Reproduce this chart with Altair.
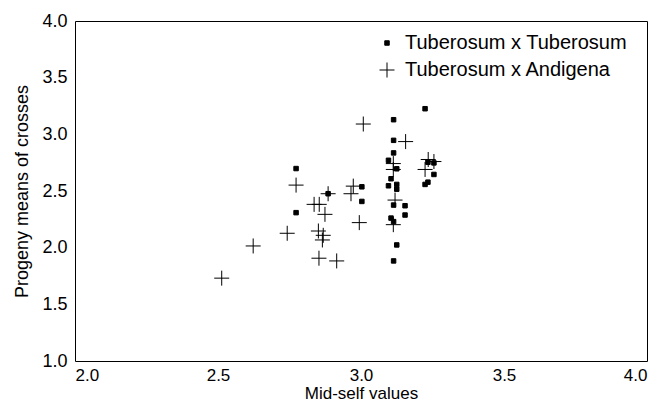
import altair as alt
import pandas as pd

# Tuberosum x Tuberosum (filled squares)
tt_x = [2.773, 2.773, 2.885, 3.003, 3.003, 3.224, 3.114, 3.114, 3.114, 3.096, 3.125,
        3.105, 3.125, 3.096, 3.125, 3.114, 3.154, 3.154, 3.105, 3.114, 3.125, 3.114,
        3.234, 3.255, 3.255, 3.234, 3.224]
tt_y = [2.698, 2.309, 2.476, 2.537, 2.408, 3.226, 3.129, 2.947, 2.836, 2.771, 2.696,
        2.608, 2.558, 2.546, 2.516, 2.376, 2.370, 2.288, 2.261, 2.230, 2.024, 1.883,
        2.754, 2.748, 2.646, 2.578, 2.558]

# Tuberosum x Andigena (crosses)
ta_x = [2.513, 2.623, 2.742, 2.773, 2.836, 2.854, 2.874, 2.851, 2.868, 2.865, 2.853,
        2.915, 2.973, 2.965, 2.994, 2.885, 3.008, 3.156, 3.113, 3.113, 3.235, 3.224,
        3.255, 3.119, 3.113]
ta_y = [1.731, 2.015, 2.127, 2.552, 2.382, 2.382, 2.294, 2.147, 2.109, 2.068, 1.907,
        1.883, 2.543, 2.476, 2.221, 2.476, 3.091, 2.936, 2.742, 2.690, 2.778, 2.690,
        2.760, 2.420, 2.203]

groups = ["Tuberosum x Tuberosum", "Tuberosum x Andigena"]

df = pd.DataFrame({
    "x": tt_x + ta_x,
    "y": tt_y + ta_y,
    "group": [groups[0]] * len(tt_x) + [groups[1]] * len(ta_x),
})

FONT = "Liberation Sans"
cross_path = "M-1,0H1M0,-1V1"

legend = alt.Legend(
    title=None, orient="none", legendX=302, legendY=12, padding=0,
    labelFont=FONT, labelFontSize=20, labelColor="black", labelOffset=8,
    labelLimit=400, rowPadding=7, symbolStrokeWidth=1,
)

chart = alt.Chart(df).mark_point(strokeWidth=1, opacity=1).encode(
    x=alt.X("x:Q", scale=alt.Scale(domain=[2.0, 4.0], nice=False, zero=False),
            axis=alt.Axis(values=[2.0, 2.5, 3.0, 3.5, 4.0], format=".1f",
                          title="Mid-self values")),
    y=alt.Y("y:Q", scale=alt.Scale(domain=[1.0, 4.0], nice=False, zero=False),
            axis=alt.Axis(values=[1.0, 1.5, 2.0, 2.5, 3.0, 3.5, 4.0], format=".1f",
                          title="Progeny means of crosses")),
    shape=alt.Shape("group:N", scale=alt.Scale(domain=groups, range=["square", cross_path]),
                    legend=legend),
    fill=alt.Fill("group:N", scale=alt.Scale(domain=groups, range=["black", "transparent"]),
                  legend=legend),
    stroke=alt.Stroke("group:N", scale=alt.Scale(domain=groups, range=["black", "black"]),
                      legend=legend),
    size=alt.Size("group:N", scale=alt.Scale(domain=groups, range=[20, 225]),
                  legend=legend),
).properties(
    width=572, height=340,
    autosize=alt.AutoSizeParams(type="none"),
    padding={"left": 67, "top": 13, "right": 11, "bottom": 44},
).configure_view(
    stroke="black", strokeWidth=1
).configure_axis(
    grid=False, ticks=False, domain=False,
    labelFont=FONT, labelFontSize=18, labelColor="black", labelPadding=8,
    titleFont=FONT, titleFontSize=18, titleFontWeight="normal", titleColor="black",
).configure_axisX(
    labelPadding=6, labelFontSize=17, titlePadding=2, titleFontSize=17
).configure_axisY(titlePadding=10)

chart.save("out.html", embed_options={"renderer": "svg", "actions": False})
